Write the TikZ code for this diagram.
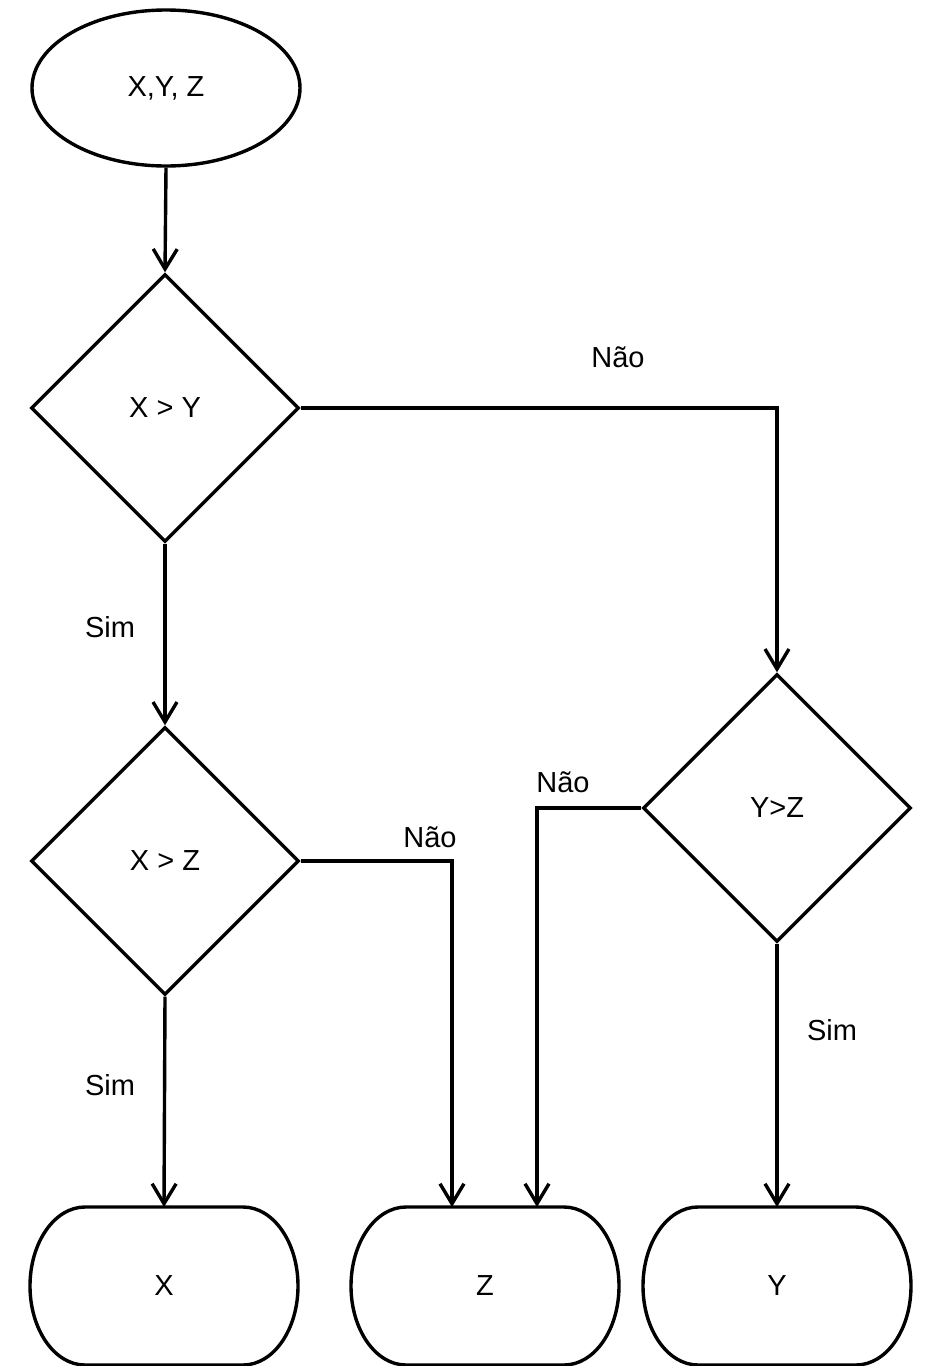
\documentclass[tikz,border=0pt]{standalone}
\usepackage{fontspec}
\setmainfont{Liberation Sans}
\usetikzlibrary{shapes.geometric,arrows.meta}
\begin{document}
\begin{tikzpicture}[x=1pt,y=-1pt,line width=3.4pt,
  txt/.style={font=\fontsize{29}{35}\selectfont,inner sep=0pt},
  start/.style={ellipse,draw,minimum width=268pt,minimum height=156pt,txt},
  decision/.style={diamond,draw,minimum width=268pt,minimum height=268pt,aspect=1,inner sep=0pt,txt},
  term/.style={rectangle,minimum width=268pt,minimum height=158pt,outer sep=0pt,txt},
  flow/.style={-{Straight Barb[length=20pt,width=24pt]},line join=miter},
  lbl/.style={txt}]
\useasboundingbox (0,0) rectangle (925,1366);

% start and decisions
\node[start] (in) at (166,88) {X,Y, Z};
\node[decision] (d1) at (165,408) {X > Y};
\node[decision] (d2) at (165,861) {X > Z};
\node[decision] (d3) at (777,808) {Y>Z};

% terminals with elliptical ends (arc angles are in page orientation)
\node[term] (tx) at (164,1286) {X};
\node[term] (tz) at (485,1286) {Z};
\node[term] (ty) at (777,1286) {Y};
\foreach \t in {tx,tz,ty}{
  \draw (\t.north) -- ([xshift=-55pt]\t.north east)
    arc[start angle=90,end angle=-90,x radius=55pt,y radius=79pt]
    -- ([xshift=55pt]\t.south west)
    arc[start angle=270,end angle=90,x radius=55pt,y radius=79pt] -- cycle;
}

% connectors
\draw[flow] (in.south) -- (d1.north);
\draw[flow] (d1.east) -| (d3.north);
\draw[flow] (d1.south) -- (d2.north);
\draw[flow] (d2.south) -- (tx.north);
\draw[flow] (d2.east) -| ([xshift=-33pt]tz.north);
\draw[flow] (d3.west) -| ([xshift=52pt]tz.north);
\draw[flow] (d3.south) -- (ty.north);

% branch labels
\node[lbl] (l1) at (618,357) {Não};
\node[lbl] (l2) at (110,627) {Sim};
\node[lbl] (l3) at (430,837) {Não};
\node[lbl] (l4) at (563,782) {Não};
\node[lbl] (l5) at (110,1085) {Sim};
\node[lbl] (l6) at (832,1030) {Sim};
\end{tikzpicture}
\end{document}
